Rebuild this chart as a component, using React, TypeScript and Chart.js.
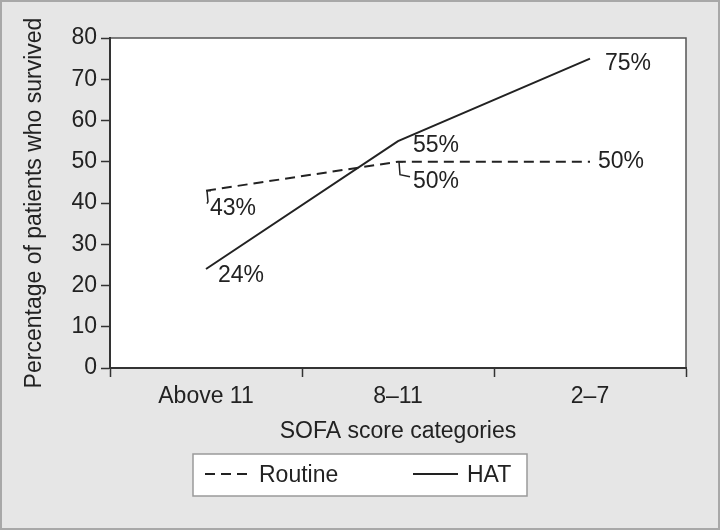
import React, { useEffect, useRef } from "react";
import { Chart, registerables } from "chart.js";

Chart.register(...registerables);

const categories = ["Above 11", "8–11", "2–7"];
const routineValues = [43, 50, 50];
const hatValues = [24, 55, 75];
const yTicks = [0, 10, 20, 30, 40, 50, 60, 70, 80];
const xTitle = "SOFA score categories";
const yTitle = "Percentage of patients who survived";
const seriesNames = ["Routine", "HAT"];

// label placement (styling only)
const routineLabelStyle = [
  { dx: 4, dy: 18, leader: true },
  { dx: 15, dy: 20, leader: true },
  { dx: 8, dy: 0, leader: false },
];
const hatLabelStyle = [
  { dx: 12, dy: 7, leader: false },
  { dx: 15, dy: 5, leader: false },
  { dx: 15, dy: 5, leader: false },
];

const FONT = "'Liberation Sans', Arial, sans-serif";
const FS = 23;
const INK = "#222222";

export default function App() {
  const ref = useRef<HTMLCanvasElement | null>(null);

  useEffect(() => {
    if (!ref.current) return;

    const bgPlugin = {
      id: "bgPlugin",
      beforeDraw(chart: any) {
        const { ctx, chartArea, width, height } = chart;
        ctx.save();
        ctx.fillStyle = "#e6e6e6";
        ctx.fillRect(0, 0, width, height);
        ctx.fillStyle = "#ffffff";
        ctx.fillRect(chartArea.left, chartArea.top, chartArea.right - chartArea.left, chartArea.bottom - chartArea.top);
        ctx.strokeStyle = "#555555";
        ctx.lineWidth = 1.5;
        ctx.beginPath();
        ctx.moveTo(chartArea.left, chartArea.top);
        ctx.lineTo(chartArea.right, chartArea.top);
        ctx.lineTo(chartArea.right, chartArea.bottom);
        ctx.stroke();
        ctx.restore();
      },
      afterDraw(chart: any) {
        const { ctx, width, height } = chart;
        ctx.save();
        ctx.strokeStyle = "#a8a8a8";
        ctx.lineWidth = 2;
        ctx.strokeRect(1, 1, width - 2, height - 2);
        ctx.restore();
      },
    };

    const labelPlugin = {
      id: "labelPlugin",
      afterDatasetsDraw(chart: any) {
        const { ctx } = chart;
        ctx.save();
        ctx.font = `${FS}px ${FONT}`;
        ctx.fillStyle = INK;
        ctx.textAlign = "left";
        ctx.textBaseline = "middle";
        const styles = [routineLabelStyle, hatLabelStyle];
        chart.data.datasets.forEach((ds: any, di: number) => {
          const meta = chart.getDatasetMeta(di);
          meta.data.forEach((pt: any, i: number) => {
            const s = styles[di][i];
            const v = ds.data[i];
            if (s.leader) {
              ctx.strokeStyle = INK;
              ctx.lineWidth = 1.5;
              ctx.setLineDash([]);
              ctx.beginPath();
              ctx.moveTo(pt.x + 5, pt.y);
              ctx.lineTo(pt.x + 1, pt.y);
              ctx.lineTo(pt.x + 2, pt.y + s.dy - 7);
              ctx.lineTo(pt.x + s.dx - 3, pt.y + s.dy - 5);
              ctx.stroke();
            }
            ctx.fillText(`${v}%`, pt.x + s.dx, pt.y + s.dy);
          });
        });
        ctx.restore();
      },
    };

    const legendPlugin = {
      id: "legendBox",
      afterDraw(chart: any) {
        const { ctx } = chart;
        ctx.save();
        const bx = 193, by = 454, bw = 334, bh = 42;
        ctx.fillStyle = "#ffffff";
        ctx.fillRect(bx, by, bw, bh);
        ctx.strokeStyle = "#9a9a9a";
        ctx.lineWidth = 1.5;
        ctx.strokeRect(bx, by, bw, bh);
        const itemX = [205, 413];
        const cy = by + bh / 2;
        ctx.font = `${FS}px ${FONT}`;
        ctx.textBaseline = "middle";
        ctx.fillStyle = INK;
        chart.data.datasets.forEach((ds: any, di: number) => {
          const x0 = itemX[di];
          ctx.strokeStyle = INK;
          ctx.lineWidth = 2;
          ctx.setLineDash(ds.borderDash || []);
          ctx.beginPath();
          ctx.moveTo(x0, cy - 1);
          ctx.lineTo(x0 + 45, cy - 1);
          ctx.stroke();
          ctx.setLineDash([]);
          ctx.fillText(ds.label, x0 + 54, cy + 1);
        });
        ctx.restore();
      },
    };

    const chart = new Chart(ref.current, {
      type: "line",
      data: {
        labels: categories,
        datasets: [
          {
            label: seriesNames[0],
            data: routineValues,
            borderColor: INK,
            borderWidth: 2,
            borderDash: [10, 6],
            pointRadius: 0,
            tension: 0,
            fill: false,
          },
          {
            label: seriesNames[1],
            data: hatValues,
            borderColor: INK,
            borderWidth: 2,
            pointRadius: 0,
            tension: 0,
            fill: false,
          },
        ],
      },
      options: {
        responsive: false,
        animation: false,
        layout: { padding: { left: 0, top: 38, right: 34, bottom: 0 } },
        plugins: {
          legend: { display: false },
          tooltip: { enabled: false },
        },
        scales: {
          x: {
            type: "category",
            offset: true,
            grid: {
              offset: true,
              drawOnChartArea: false,
              drawTicks: true,
              tickLength: 9,
              tickWidth: 1.5,
              tickColor: "#333333",
            },
            border: { display: true, color: "#333333", width: 2 },
            ticks: {
              color: INK,
              font: { family: FONT, size: FS },
              padding: 6,
              maxRotation: 0,
            },
            title: {
              display: true,
              text: xTitle,
              color: INK,
              font: { family: FONT, size: FS },
              padding: { top: 0, bottom: 85 },
            },
            afterFit(scale: any) {
              scale.height = 162;
            },
          },
          y: {
            min: 0,
            max: 80,
            afterBuildTicks(scale: any) {
              scale.ticks = yTicks.map((v) => ({ value: v }));
            },
            grid: {
              drawOnChartArea: false,
              drawTicks: true,
              tickLength: 9,
              tickWidth: 1.5,
              tickColor: "#333333",
            },
            border: { display: true, color: "#333333", width: 2 },
            ticks: {
              color: INK,
              font: { family: FONT, size: FS },
              padding: 4,
            },
            title: {
              display: true,
              text: yTitle,
              color: INK,
              font: { family: FONT, size: FS },
              padding: { top: 21, bottom: 0 },
            },
            afterFit(scale: any) {
              scale.width = 110;
            },
          },
        },
      },
      plugins: [bgPlugin, labelPlugin, legendPlugin],
    });

    return () => chart.destroy();
  }, []);

  return (
    <div style={{ position: "fixed", left: 0, top: 0, width: 720, height: 530 }}>
      <canvas ref={ref} width={720} height={530} style={{ display: "block" }} />
    </div>
  );
}
